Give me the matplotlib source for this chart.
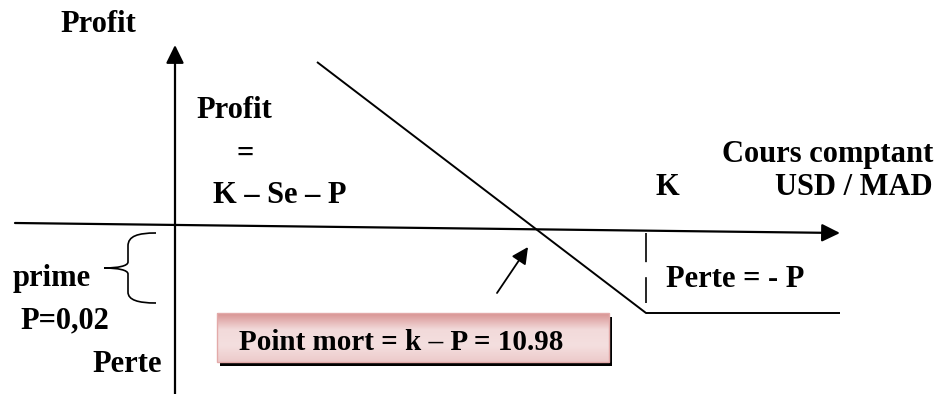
import numpy as np
import matplotlib
matplotlib.use('Agg')
import matplotlib.pyplot as plt
from matplotlib.patches import Rectangle, PathPatch
from matplotlib.path import Path
from matplotlib.colors import LinearSegmentedColormap

# schéma d'un put : coordonnées du schéma (pixels, y vers le bas)
payoff_x = [317, 646, 840]
payoff_y = [62, 313, 313]
strike_x = 646
axis_x = [15, 840]
axis_y = [223, 233]
vaxis_x = 175
vaxis_y = [394, 45]

labels = {
    'Profit': (60, 32),
    'K – Se – P': (213, 203),
    'K': (655, 195),
    'prime': (13, 286),
    'P=0,02': (20, 328),
    'Perte': (92, 372),
    'Perte = - P': (666, 287),
}
formule_titre = ('Profit', 196, 118)
egal = ('=', 245, 162)
cours = ['Cours comptant', 'USD / MAD']
point_mort = 'Point mort = k – P = 10.98'

plt.rcParams['font.family'] = ['Liberation Serif', 'DejaVu Serif']
fs = 22

fig = plt.figure(figsize=(9.42, 3.94), dpi=100)
ax = fig.add_axes([0, 0, 1, 1])
ax.set_xlim(0, 942)
ax.set_ylim(394, 0)
ax.axis('off')

arr = dict(arrowstyle='-|>,head_length=0.55,head_width=0.27', color='black',
           lw=1.6, shrinkA=0, shrinkB=0, mutation_scale=20)
# axe horizontal
ax.annotate('', xy=(axis_x[1], axis_y[1]), xytext=(axis_x[0], axis_y[0]), arrowprops=arr)
# axe vertical
ax.annotate('', xy=(vaxis_x, vaxis_y[1]), xytext=(vaxis_x, vaxis_y[0]), arrowprops=arr)

# profil du put
ax.plot(payoff_x, payoff_y, color='black', lw=1.4, solid_capstyle='butt')

# tirets au strike
ax.plot([strike_x, strike_x], [233, 303], color='black', lw=1.2, dashes=(17.5, 9))

# flèche point mort
ax.annotate('', xy=(528, 247), xytext=(497, 293),
            arrowprops=dict(arrowstyle='-|>,head_length=0.5,head_width=0.25', color='black',
                            lw=1.3, shrinkA=0, shrinkB=0, mutation_scale=20))

# accolade "prime"
verts = [(156, 233), (138, 233), (128, 236), (128, 246),
         (128, 262),
         (128, 266), (118, 268), (104, 268),
         (118, 268), (128, 270), (128, 274),
         (128, 292),
         (128, 300), (138, 303), (156, 303)]
codes = [Path.MOVETO, Path.CURVE4, Path.CURVE4, Path.CURVE4,
         Path.LINETO,
         Path.CURVE4, Path.CURVE4, Path.CURVE4,
         Path.CURVE4, Path.CURVE4, Path.CURVE4,
         Path.LINETO,
         Path.CURVE4, Path.CURVE4, Path.CURVE4]
ax.add_patch(PathPatch(Path(verts, codes), fill=False, lw=1.2, edgecolor='black'))

# textes
txt = dict(fontsize=fs, fontweight='bold', va='baseline', ha='left', color='black')
for s, (x, y) in labels.items():
    ax.text(x, y, s, **txt)
ax.text(formule_titre[1], formule_titre[2], formule_titre[0], **txt)
ax.text(egal[1], egal[2], egal[0], fontsize=fs, fontweight='bold', va='baseline', ha='center')
ax.text(933, 162, cours[0], fontsize=fs, fontweight='bold', va='baseline', ha='right')
ax.text(933, 195, cours[1], fontsize=fs, fontweight='bold', va='baseline', ha='right')

# encadré point mort
bx0, by0, bx1, by1 = 217, 313, 609, 362
ax.add_patch(Rectangle((bx0 + 3, by0 + 4), bx1 - bx0, by1 - by0, facecolor='black',
                       edgecolor='none', zorder=2))
cmap = LinearSegmentedColormap.from_list('rose', ['#d89392', '#f2dada', '#f4dfdf', '#eccaca'])
grad = np.linspace(0, 1, 100).reshape(-1, 1)
ax.imshow(grad, cmap=cmap, extent=(bx0, bx1, by1, by0), aspect='auto', zorder=3)
ax.add_patch(Rectangle((bx0, by0), bx1 - bx0, by1 - by0, facecolor='none',
                       edgecolor='#e3aaa9', lw=1.0, zorder=4))
ax.text(239, 350, point_mort, fontsize=21, fontweight='bold', va='baseline', ha='left', zorder=5)
ax.set_xlim(0, 942)
ax.set_ylim(394, 0)

fig.savefig('out.png', dpi=100)
